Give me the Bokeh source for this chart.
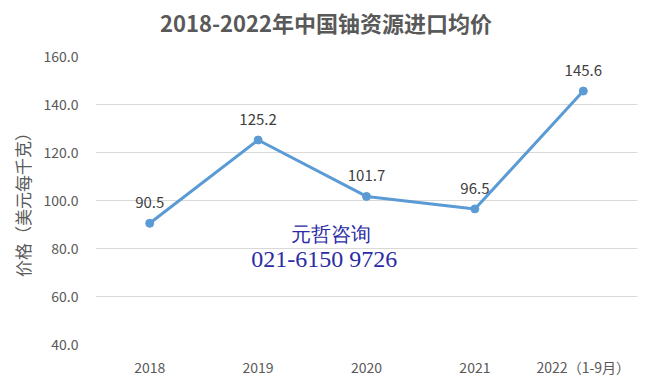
from bokeh.plotting import figure
from bokeh.models import FactorRange, Range1d, FixedTicker, NumeralTickFormatter, Label, ColumnDataSource, Div
from bokeh.layouts import column
from bokeh.embed import file_html
from bokeh.resources import INLINE
from bokeh.core.properties import value

years = ["2018", "2019", "2020", "2021", "2022（1-9月）"]
prices = [90.5, 125.2, 101.7, 96.5, 145.6]
y_ticks = [40, 60, 80, 100, 120, 140, 160]
title_text = "2018-2022年中国铀资源进口均价"
y_label = "价格（美元每千克）"
watermark = ["元哲咨询", "021-6150 9726"]

grey = "#595959"
line_color = "#5B9BD5"

title = Div(text=title_text, width=652, height=46, margin=0,
            styles={"font-family": "Noto Sans CJK SC", "font-size": "22px", "font-weight": "bold",
                    "color": grey, "text-align": "center", "line-height": "44px",
                    "background-color": "white"})

p = figure(width=652, height=339, x_range=FactorRange(*years, range_padding=0),
           y_range=Range1d(40, 160), output_backend="svg", toolbar_location=None,
           min_border_left=95, min_border_right=15, min_border_top=10, min_border_bottom=41)
p.outline_line_color = None
p.background_fill_color = "white"
p.border_fill_color = "white"

p.xgrid.grid_line_color = None
p.ygrid.grid_line_color = "#D9D9D9"
p.ygrid.grid_line_width = 1

p.yaxis.ticker = FixedTicker(ticks=y_ticks)
p.yaxis.formatter = NumeralTickFormatter(format="0.0")
for ax in (p.xaxis[0], p.yaxis[0]):
    ax.axis_line_color = None
    ax.major_tick_line_color = None
    ax.minor_tick_line_color = None
    ax.major_tick_out = 0
    ax.major_tick_in = 0
    ax.minor_tick_out = 0
    ax.major_label_text_color = grey
    ax.major_label_text_font_size = "14px"
    ax.major_label_text_font = "Noto Sans CJK SC"
p.yaxis.major_label_standoff = 17
p.xaxis.major_label_standoff = 12
p.yaxis.axis_label = y_label
p.yaxis.axis_label_text_font_size = "17px"
p.yaxis.axis_label_text_font_style = "normal"
p.yaxis.axis_label_text_color = grey
p.yaxis.axis_label_text_font = "Noto Sans CJK SC"
p.yaxis.axis_label_standoff = 6

src = ColumnDataSource(dict(x=years, y=prices, t=[f"{v:.1f}" for v in prices]))
p.line("x", "y", source=src, line_color=line_color, line_width=3)
p.scatter("x", "y", source=src, size=8, fill_color=line_color, line_color=line_color)
p.text("x", "y", text="t", source=src, text_align="center", text_baseline="bottom",
       y_offset=-15, text_font_size="15px", text_color="#404040",
       text_font=value("Noto Sans CJK SC"))

p.add_layout(Label(x=2.17, y=86.2, text=watermark[0], text_align="center", text_baseline="middle",
                   text_font_size="20px", text_color="#2B2BA6", text_font="Liberation Serif"))
p.add_layout(Label(x=2.11, y=75.8, text=watermark[1], text_align="center", text_baseline="middle",
                   text_font_size="24px", text_color="#2B2BA6", text_font="Liberation Serif"))

layout = column(title, p, spacing=0)
open("out.html", "w").write(file_html(layout, INLINE))
